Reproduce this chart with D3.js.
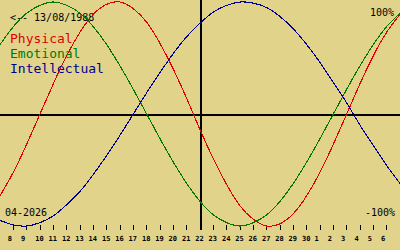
<!DOCTYPE html>
<html>
<head>
<meta charset="utf-8">
<script src="https://cdn.jsdelivr.net/npm/d3@7/dist/d3.min.js"></script>
<style>
  html, body { margin: 0; padding: 0; background: #E1D48A; }
  svg { display: block; }
  text { font-family: "DejaVu Sans Mono", monospace; }
</style>
</head>
<body>
<svg id="chart" width="400" height="250"></svg>
<script>
// Day labels shown under ticks (April 8 .. May 6, 2026)
const tickLabels = ["8","9","10","11","12","13","14","15","16","17","18","19","20","21","22",
  "23","24","25","26","27","28","29","30","1","2","3","4","5","6"];
// Daily values, April 7 .. May 7 (one point before/after the ticks)
const physical = [-0.73,-0.52,-0.27,0.00,0.27,0.52,0.73,0.89,0.98,1.00,0.94,0.82,0.63,0.40,0.14,
  -0.14,-0.40,-0.63,-0.82,-0.94,-1.00,-0.98,-0.89,-0.73,-0.52,-0.27,0.00,0.27,0.52,0.73,0.89];
const emotional = [0.62,0.78,0.90,0.97,1.00,0.97,0.90,0.78,0.62,0.43,0.22,0.00,-0.22,-0.43,-0.62,
  -0.78,-0.90,-0.97,-1.00,-0.97,-0.90,-0.78,-0.62,-0.43,-0.22,0.00,0.22,0.43,0.62,0.78,0.90];
const intellectual = [-0.95,-0.99,-1.00,-0.97,-0.91,-0.81,-0.69,-0.54,-0.37,-0.19,0.00,0.19,0.37,0.54,0.69,
  0.81,0.91,0.97,1.00,0.99,0.95,0.87,0.76,0.62,0.46,0.28,0.10,-0.10,-0.28,-0.46,-0.62];
const seriesNames = ["Physical","Emotional","Intellectual"];
const seriesColors = ["#E00000","#007800","#000090"];
const birthLabel = "<-- 13/08/1988";
const monthLabel = "04-2026";
const todayIndex = 14; // "22"

const svg = d3.select("#chart");
const W = 400, H = 250;
svg.append("rect").attr("width", W).attr("height", H).attr("fill", "#E1D48A");

const x = d3.scaleLinear().domain([-1, tickLabels.length]).range([0, W]);
const y = d3.scaleLinear().domain([-1, 1]).range([226, 2]);

// axes lines
svg.append("line").attr("x1", 0).attr("x2", W).attr("y1", y(0) + 1).attr("y2", y(0) + 1)
  .attr("stroke", "#000").attr("stroke-width", 2).attr("shape-rendering", "crispEdges");
svg.append("line").attr("x1", Math.round(x(todayIndex)) + 1).attr("x2", Math.round(x(todayIndex)) + 1)
  .attr("y1", 0).attr("y2", 230)
  .attr("stroke", "#000").attr("stroke-width", 2).attr("shape-rendering", "crispEdges");

// ticks
const tickG = svg.append("g");
tickLabels.forEach((lab, i) => {
  const tx = Math.floor(x(i)) + 0.5;
  tickG.append("line").attr("x1", tx).attr("x2", tx).attr("y1", 225).attr("y2", 230)
    .attr("stroke", "#000").attr("stroke-width", 1).attr("shape-rendering", "crispEdges");
  tickG.append("text").attr("x", x(i) + (lab.length === 1 ? -3.5 : -0.5)).attr("y", 241)
    .attr("text-anchor", "middle").attr("font-size", 7).attr("font-weight", "bold")
    .attr("fill", "#000").text(lab);
});

// texts
svg.append("text").attr("x", 10).attr("y", 20.5).attr("font-size", 10).attr("fill", "#000").text(birthLabel);
seriesNames.forEach((n, k) => {
  svg.append("text").attr("x", 10).attr("y", 43 + 15 * k).attr("font-size", 13)
    .attr("fill", seriesColors[k]).text(n);
});
svg.append("text").attr("x", 394).attr("y", 16).attr("text-anchor", "end")
  .attr("font-size", 10).attr("fill", "#000").text("100%");
svg.append("text").attr("x", 395).attr("y", 216).attr("text-anchor", "end")
  .attr("font-size", 10).attr("fill", "#000").text("-100%");
svg.append("text").attr("x", 5).attr("y", 216)
  .attr("font-size", 10).attr("fill", "#000").text(monthLabel);

// curves
const line = d3.line().x((d, i) => x(i - 1)).y(d => y(d)).curve(d3.curveNatural);
[physical, emotional, intellectual].forEach((s, k) => {
  svg.append("path").attr("d", line(s)).attr("fill", "none")
    .attr("stroke", seriesColors[k]).attr("stroke-width", 1.1)
    .attr("shape-rendering", "crispEdges");
});
</script>
</body>
</html>
